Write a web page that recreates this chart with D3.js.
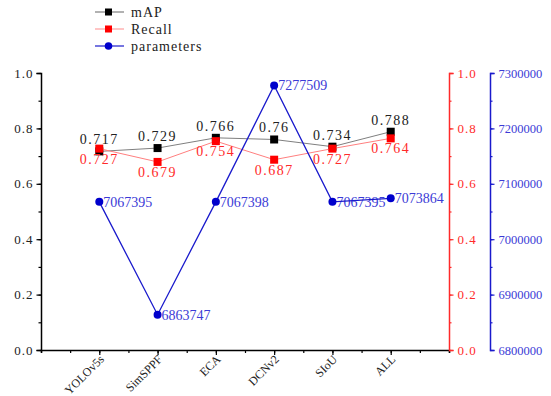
<!DOCTYPE html>
<html><head><meta charset="utf-8">
<script src="https://cdn.jsdelivr.net/npm/d3@7"></script>
<style>body{margin:0;background:#fff}svg{display:block}svg text{font-family:"Liberation Serif","DejaVu Serif",serif !important}</style>
</head><body><svg id="c" width="551" height="396" font-family="Liberation Serif"></svg>
<script>
const categories = ["YOLOv5s","SimSPPF","ECA","DCNv2","SIoU","ALL"];
const mAP = [0.717,0.729,0.766,0.76,0.734,0.788];
const recall = [0.727,0.679,0.754,0.687,0.727,0.764];
const parameters = [7067395,6863747,7067398,7277509,7067395,7073864];
const leftTicks = [0,0.2,0.4,0.6,0.8,1.0];
const paramTicks = [6800000,6900000,7000000,7100000,7200000,7300000];

const SERIF = "Liberation Serif, DejaVu Serif, serif";
const svg = d3.select("#c");
const L=41, R=449, T=73, B=350, BX=490;
const x = d3.scaleLinear().domain([0,7]).range([L,R]);
const y = d3.scaleLinear().domain([0,1]).range([B,T]);
const yp = d3.scaleLinear().domain([6800000,7300000]).range([B,T]);
const fmt = d=>d3.format(".1f")(d);
const RED="#ff2a2a", BLUE="#1a1acc", BLUET="#3b3bd6";

// left axis
const gl = svg.append("g").attr("transform",`translate(${L},0)`);
gl.call(d3.axisLeft(y).tickValues(d3.range(0,1.01,0.1)).tickSize(2.5).tickFormat(""));
gl.call(g=>g.selectAll(".tick line").attr("stroke","#000").attr("stroke-width",1.2));
const gl2 = svg.append("g").attr("transform",`translate(${L},0)`);
gl2.call(d3.axisLeft(y).tickValues(leftTicks).tickSize(4.5).tickPadding(3).tickFormat(fmt));
gl2.select(".domain").attr("stroke","#000").attr("stroke-width",1.5);
gl2.selectAll(".tick line").attr("stroke","#000").attr("stroke-width",1.2);
gl2.selectAll("text").attr("font-size",13).attr("fill","#222").style("letter-spacing","1px");

// bottom axis
const gb = svg.append("g").attr("transform",`translate(0,${B})`);
gb.call(d3.axisBottom(x).tickValues(d3.range(0,7.01,0.5)).tickSize(3).tickFormat(""));
gb.select(".domain").attr("stroke","#000").attr("stroke-width",1.5);
gb.selectAll(".tick line").attr("stroke","#000").attr("stroke-width",1.2);
const gb2 = svg.append("g").attr("transform",`translate(0,${B})`);
gb2.call(d3.axisBottom(x).tickValues([1,2,3,4,5,6]).tickSize(5).tickFormat((d,i)=>categories[i]));
gb2.select(".domain").remove();
gb2.selectAll(".tick line").attr("stroke","#000").attr("stroke-width",1.2);
gb2.selectAll("text").attr("font-size",12).attr("fill","#222")
  .attr("text-anchor","end").attr("dy",0).attr("y",0)
  .attr("transform","translate(5,10) rotate(-45)");

// red right axis
const gr = svg.append("g").attr("transform",`translate(${R},0)`);
gr.call(d3.axisRight(y).tickValues(d3.range(0,1.01,0.1)).tickSize(2.5).tickFormat(""));
gr.selectAll(".tick line").attr("stroke",RED).attr("stroke-width",1.2);
const gr2 = svg.append("g").attr("transform",`translate(${R},0)`);
gr2.call(d3.axisRight(y).tickValues(leftTicks).tickSize(4.5).tickPadding(4).tickFormat(fmt));
gr2.select(".domain").attr("stroke",RED).attr("stroke-width",1.5);
gr2.selectAll(".tick line").attr("stroke",RED).attr("stroke-width",1.2);
gr2.selectAll("text").attr("font-size",13).attr("fill",RED).style("letter-spacing","1px");

// blue right axis
const gp = svg.append("g").attr("transform",`translate(${BX},0)`);
gp.call(d3.axisRight(yp).tickValues(d3.range(6800000,7300001,50000)).tickSize(2.5).tickFormat(""));
gp.selectAll(".tick line").attr("stroke",BLUE).attr("stroke-width",1.2);
const gp2 = svg.append("g").attr("transform",`translate(${BX},0)`);
gp2.call(d3.axisRight(yp).tickValues(paramTicks).tickSize(4.5).tickPadding(4).tickFormat(d3.format("d")));
gp2.select(".domain").attr("stroke",BLUE).attr("stroke-width",1.5);
gp2.selectAll(".tick line").attr("stroke",BLUE).attr("stroke-width",1.2);
gp2.selectAll("text").attr("font-size",12.5).attr("fill",BLUET);

svg.selectAll("g").attr("font-family",SERIF);

const idx = d3.range(categories.length);
// mAP
svg.append("path").attr("fill","none").attr("stroke","#7f7f7f").attr("stroke-width",1)
  .attr("d",d3.line().x(i=>x(i+1)).y(i=>y(mAP[i]))(idx));
svg.selectAll(".ms").data(idx).join("rect").attr("x",i=>x(i+1)-4).attr("y",i=>y(mAP[i])-4)
  .attr("width",8).attr("height",8).attr("fill","#000");
svg.selectAll(".ml").data(idx).join("text").attr("x",i=>x(i+1)).attr("y",i=>y(mAP[i])-7)
  .attr("text-anchor","middle").attr("font-size",14).attr("fill","#222").style("letter-spacing","1.5px")
  .text(i=>String(mAP[i]));
// recall
svg.append("path").attr("fill","none").attr("stroke","#ff7f7f").attr("stroke-width",1)
  .attr("d",d3.line().x(i=>x(i+1)).y(i=>y(recall[i]))(idx));
svg.selectAll(".rs").data(idx).join("rect").attr("x",i=>x(i+1)-4).attr("y",i=>y(recall[i])-4)
  .attr("width",8).attr("height",8).attr("fill","#ff0000");
svg.selectAll(".rl").data(idx).join("text").attr("x",i=>x(i+1)).attr("y",i=>y(recall[i])+15)
  .attr("text-anchor","middle").attr("font-size",14).attr("fill",RED).style("letter-spacing","1.5px")
  .text(i=>String(recall[i]));
// parameters
svg.selectAll(".pl").data(idx).join("text").attr("x",i=>x(i+1)+4).attr("y",i=>yp(parameters[i])+5)
  .attr("font-size",14).attr("fill",BLUET).text(i=>String(parameters[i]));
svg.append("path").attr("fill","none").attr("stroke",BLUE).attr("stroke-width",1.3)
  .attr("d",d3.line().x(i=>x(i+1)).y(i=>yp(parameters[i]))(idx));
svg.selectAll(".pc").data(idx).join("circle").attr("cx",i=>x(i+1)).attr("cy",i=>yp(parameters[i]))
  .attr("r",4).attr("fill","#0000cc");

// legend
const leg = [{n:"mAP",lc:"#7f7f7f",mc:"#000",s:"sq"},{n:"Recall",lc:"#ff9f9f",mc:"#ff0000",s:"sq"},{n:"parameters",lc:BLUE,mc:"#0000cc",s:"ci"}];
const lg = svg.selectAll(".lg").data(leg).join("g").attr("transform",(d,i)=>`translate(0,${12+i*17})`);
lg.append("line").attr("x1",95).attr("x2",124).attr("stroke",d=>d.lc).attr("stroke-width",1.2);
lg.filter(d=>d.s==="sq").append("rect").attr("x",105).attr("y",-3.5).attr("width",7).attr("height",7).attr("fill",d=>d.mc);
lg.filter(d=>d.s==="ci").append("circle").attr("cx",108.5).attr("r",3.8).attr("fill",d=>d.mc);
lg.append("text").attr("x",131).attr("y",5).attr("font-size",14).attr("fill","#222").style("letter-spacing","1px").text(d=>d.n);
</script></body></html>
